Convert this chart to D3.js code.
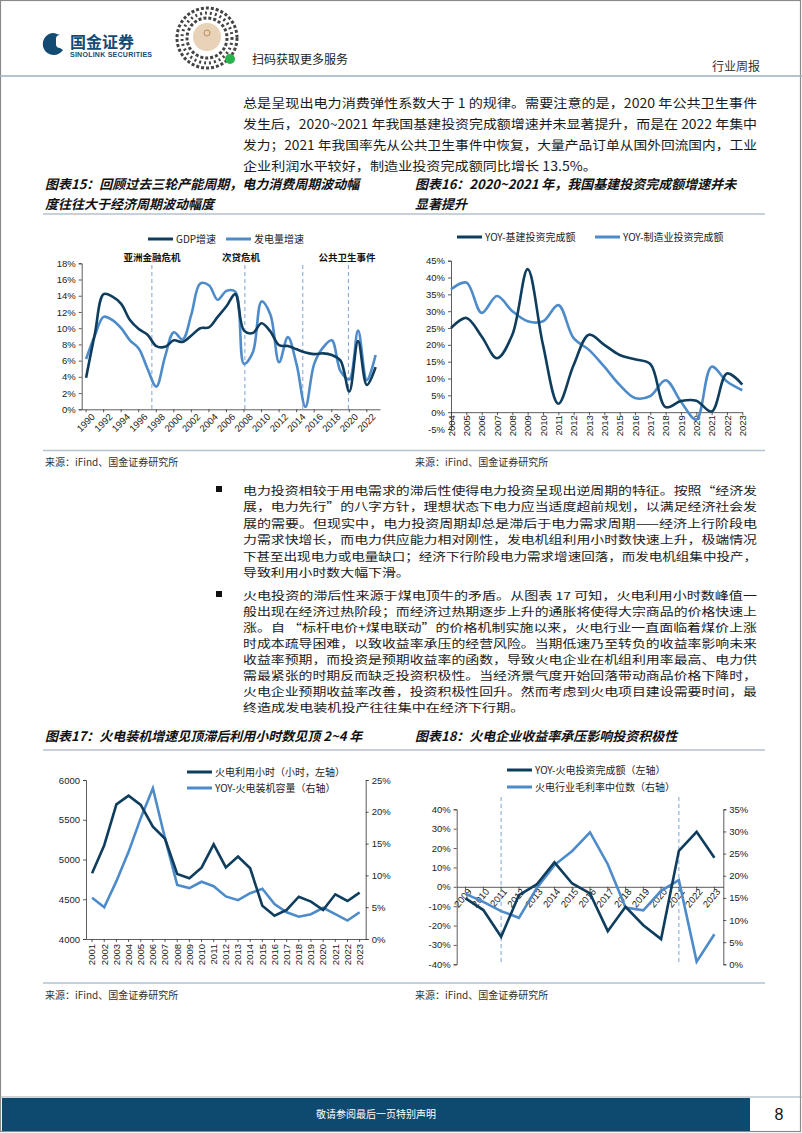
<!DOCTYPE html>
<html><head><meta charset="utf-8">
<script src="https://cdn.jsdelivr.net/npm/d3@7"></script>
<style>
body{margin:0;background:#fff;}
svg{display:block;}
.ax text{font-family:"Liberation Sans",Arial,sans-serif;font-size:9.5px;fill:#222;}
.ax path,.ax line{stroke:#333;stroke-width:0.8;}
</style></head>
<body>
<svg id="pg" width="802" height="1133"></svg>
<script>
// ---------- DATA ----------
const years1 = d3.range(1990, 2024);
const gdpGrowth = [3.9,9.3,14.2,13.9,13.0,11.0,9.9,9.2,7.8,7.7,8.5,8.3,9.1,10.0,10.1,11.4,12.7,14.2,9.7,9.4,10.6,9.6,7.9,7.8,7.4,7.0,6.8,6.9,6.7,6.0,2.2,8.4,3.0,5.2];
const powerGrowth = [6.2,9.1,11.4,11.0,10.0,8.5,7.5,5.0,2.8,6.5,9.5,8.6,11.7,15.5,15.3,13.5,14.6,14.5,5.6,7.0,13.3,11.7,5.8,8.9,5.5,0.3,5.6,7.6,8.5,4.7,3.7,9.7,3.6,6.7];
const crisisLabels = ["亚洲金融危机","次贷危机","","公共卫生事件"];
const crisisYears = [1997.5, 2008.1, 2014.7, 2019.9];

const years2 = d3.range(2004, 2024);
const infraYoY = [25,28,22.5,16,23,42.5,20,2.5,14,23,20,17,15.7,14.3,1.5,3.3,3.4,0.2,11.5,8.2];
const mfgYoY = [36.5,38.5,29.5,34.5,30,27,27,31.8,22,18.5,13.5,8.1,4.2,4.8,9.5,3.1,-2.2,13.5,9.1,6.5];

const years3 = d3.range(2001, 2024);
const thermalHours = [4826,5180,5694,5803,5686,5413,5260,4818,4763,4897,5190,4901,5036,4889,4419,4293,4365,4532,4470,4365,4562,4478,4583];
const thermalCapYoY = [6.5,5.0,9.1,13.7,19.0,23.7,15.8,8.5,8.0,9.0,8.3,6.7,6.1,7.2,7.9,5.5,4.2,3.5,3.9,4.9,3.9,2.9,4.2];

const years4 = d3.range(2009, 2024);
const thermalInvYoY = [-6,-12,-25.8,-4.3,1.2,12.6,1.7,-3.4,-22.9,-10.3,-19.8,-27,18.6,28.4,15];
const grossMargin = [15.9,14.1,12.0,10.5,17.2,22.4,25.6,29.8,22.6,12.8,12.2,16.6,19.0,0.6,6.8];
const marker4Years = [2011, 2021];

const DARK = "#0f3d5e", LIGHT = "#4d8bca", DASH = "#7fa3d6";
const CJK = '"Noto Sans CJK SC","Noto Sans",sans-serif';

const svg = d3.select("#pg");

// ---------- PAGE FRAME ----------
svg.append("rect").attr("x",0.5).attr("y",0.5).attr("width",800).attr("height",1131).attr("fill","none").attr("stroke","#8a8a8a").attr("stroke-width",1.2);
svg.append("line").attr("x1",0).attr("x2",802).attr("y1",76).attr("y2",76).attr("stroke","#9fb0bf").attr("stroke-width",1.5);

// logo
const logo = svg.append("g");
logo.append("path").attr("d","M54,33 a11,11 0 1,0 9,17 l-3,-2 a4,4 0 0,1 -4,-3 l0,-6 a4,4 0 0,1 4,-4 z").attr("fill","#134b73");
logo.append("text").attr("x",70).attr("y",48).text("国金证券").attr("font-family",CJK).attr("font-weight","bold").attr("font-size",16).attr("fill","#134b73");
logo.append("text").attr("x",70).attr("y",57).text("SINOLINK SECURITIES").attr("font-family","Liberation Sans,Arial").attr("font-weight","bold").attr("font-size",7).attr("fill","#134b73").attr("textLength",82);
// QR-like badge
const qr = svg.append("g");
[30,25,20].forEach((r,i)=>qr.append("circle").attr("cx",207).attr("cy",38).attr("r",r).attr("fill","none").attr("stroke","#444").attr("stroke-width",3).attr("stroke-dasharray",i%2?"2,3":"3,2"));
qr.append("circle").attr("cx",207).attr("cy",37).attr("r",14).attr("fill","#e9d3b8");
qr.append("circle").attr("cx",207).attr("cy",33).attr("r",3).attr("fill","none").attr("stroke","#b58d5c");
qr.append("circle").attr("cx",230).attr("cy",59).attr("r",5).attr("fill","#2bb24c");
svg.append("text").attr("x",252).attr("y",64).text("扫码获取更多服务").attr("font-family",CJK).attr("font-size",12).attr("fill","#222");
svg.append("text").attr("x",712).attr("y",71).text("行业周报").attr("font-family",CJK).attr("font-size",12).attr("fill","#333");

// ---------- BODY TEXT ----------
function para(lines, x, y0, lh, width, fs){
  let ratio = 1;
  lines.forEach((t,i)=>{
    const el = svg.append("text").attr("x",x).attr("y",y0+i*lh).text(t)
      .attr("font-family",CJK).attr("font-size",fs).attr("fill","#1a1a1a");
    const nat = el.node().getComputedTextLength();
    if(i < lines.length-1){ el.attr("textLength",width).attr("lengthAdjust","spacingAndGlyphs"); if(i===0) ratio = width/nat; }
    else el.attr("textLength",nat*ratio).attr("lengthAdjust","spacingAndGlyphs");
  });
}
para(["总是呈现出电力消费弹性系数大于 1 的规律。需要注意的是，2020 年公共卫生事件",
      "发生后，2020~2021 年我国基建投资完成额增速并未显著提升，而是在 2022 年集中",
      "发力；2021 年我国率先从公共卫生事件中恢复，大量产品订单从国外回流国内，工业",
      "企业利润水平较好，制造业投资完成额同比增长 13.5%。"], 243, 108, 21, 514, 12.5);
para(["电力投资相较于用电需求的滞后性使得电力投资呈现出逆周期的特征。按照“经济发",
      "展，电力先行”的八字方针，理想状态下电力应当适度超前规划，以满足经济社会发",
      "展的需要。但现实中，电力投资周期却总是滞后于电力需求周期——经济上行阶段电",
      "力需求快增长，而电力供应能力相对刚性，发电机组利用小时数快速上升，极端情况",
      "下甚至出现电力或电量缺口；经济下行阶段电力需求增速回落，而发电机组集中投产，",
      "导致利用小时数大幅下滑。"], 243, 495, 16.4, 514, 11);
para(["火电投资的滞后性来源于煤电顶牛的矛盾。从图表 17 可知，火电利用小时数峰值一",
      "般出现在经济过热阶段；而经济过热期逐步上升的通胀将使得大宗商品的价格快速上",
      "涨。自 “标杆电价+煤电联动”的价格机制实施以来，火电行业一直面临着煤价上涨",
      "时成本疏导困难，以致收益率承压的经营风险。当期低速乃至转负的收益率影响未来",
      "收益率预期，而投资是预期收益率的函数，导致火电企业在机组利用率最高、电力供",
      "需最紧张的时期反而缺乏投资积极性。当经济景气度开始回落带动商品价格下降时，",
      "火电企业预期收益率改善，投资积极性回升。然而考虑到火电项目建设需要时间，最",
      "终造成发电装机投产往往集中在经济下行期。"], 243, 600, 16, 514, 11);
svg.append("rect").attr("x",216).attr("y",486).attr("width",6).attr("height",6).attr("fill","#111");
svg.append("rect").attr("x",216).attr("y",591).attr("width",6).attr("height",6).attr("fill","#111");

// ---------- TITLES / SOURCES ----------
function title(t,x,y){svg.append("text").attr("x",x).attr("y",y).text(t).attr("font-family",CJK).attr("font-weight","bold").attr("font-style","italic").attr("font-size",13).attr("fill","#111");}
title("图表15：回顾过去三轮产能周期，电力消费周期波动幅",45,189);
title("度往往大于经济周期波动幅度",45,209);
title("图表16：2020~2021 年，我国基建投资完成额增速并未",415,189);
title("显著提升",415,209);
title("图表17：火电装机增速见顶滞后利用小时数见顶 2~4 年",45,741);
title("图表18：火电企业收益率承压影响投资积极性",415,741);
[214,750,450.5,983].forEach(y=>svg.append("line").attr("x1",43).attr("x2",765).attr("y1",y).attr("y2",y).attr("stroke","#b4c2cf").attr("stroke-width",1.5));
[[45,466],[415,466],[45,999],[415,999]].forEach(([x,y])=>svg.append("text").attr("x",x).attr("y",y).text("来源：iFind、国金证券研究所").attr("font-family",CJK).attr("font-size",10).attr("fill","#333"));

// footer
svg.append("line").attr("x1",0).attr("x2",802).attr("y1",1097).attr("y2",1097).attr("stroke","#9aa7b3").attr("stroke-width",1);
svg.append("rect").attr("x",2).attr("y",1098).attr("width",748).attr("height",33).attr("fill","#0e4a70");
svg.append("text").attr("x",376).attr("y",1118).attr("text-anchor","middle").text("敬请参阅最后一页特别声明").attr("font-family",CJK).attr("font-size",10).attr("fill","#fff");
svg.append("text").attr("x",779).attr("y",1120).attr("text-anchor","middle").text("8").attr("font-family","Liberation Sans,Arial").attr("font-size",16).attr("fill","#111");

// ---------- helpers ----------
function legendItem(g,x,y,color,label){
  g.append("line").attr("x1",x).attr("x2",x+25).attr("y1",y).attr("y2",y).attr("stroke",color).attr("stroke-width",3);
  g.append("text").attr("x",x+28).attr("y",y+3.5).text(label).attr("font-family",CJK).attr("font-size",10).attr("fill","#222");
}
const pct = d => d + "%";

// ---------- CHART 15 ----------
{
  const g = svg.append("g");
  const x = d3.scaleBand().domain(years1).range([81.7,380]);
  const xc = v => x(v) + x.bandwidth()/2;
  const xf = yr => 81.7 + (yr - 1990 + 0.5) * x.step();
  const y = d3.scaleLinear().domain([0,18]).range([409.3,263.3]);
  g.append("g").attr("class","ax").attr("transform","translate(81.7,0)")
    .call(d3.axisLeft(y).tickValues(d3.range(0,19,2)).tickFormat(pct).tickSize(3).tickPadding(3));
  const xa = g.append("g").attr("class","ax").attr("transform","translate(0,409.3)")
    .call(d3.axisBottom(x).tickValues(years1.filter(v=>v%2===0)).tickSize(3).tickSizeOuter(0));
  xa.selectAll("text").attr("text-anchor","end").attr("transform","translate(4,0) rotate(-45)").attr("dy","0.6em").attr("dx","-0.2em").attr("y",4).attr("x",0);
  crisisYears.forEach((yr,i)=>{
    g.append("line").attr("x1",xf(yr)).attr("x2",xf(yr)).attr("y1",265).attr("y2",409).attr("stroke",DASH).attr("stroke-dasharray","4,3").attr("stroke-width",1);
  });
  [[0,152],[1,241],[3,347]].forEach(([i,cx])=>g.append("text").attr("x",cx).attr("y",261).attr("text-anchor","middle").text(crisisLabels[i]).attr("font-family",CJK).attr("font-weight","bold").attr("font-size",9.5).attr("fill","#111"));
  const line = d3.line().x((d,i)=>xc(years1[i])).y(d=>y(d)).curve(d3.curveCatmullRom);
  g.append("path").attr("d",line(powerGrowth)).attr("fill","none").attr("stroke",LIGHT).attr("stroke-width",2.6);
  g.append("path").attr("d",line(gdpGrowth)).attr("fill","none").attr("stroke",DARK).attr("stroke-width",2.6);
  legendItem(g,148,239,DARK,"GDP增速");
  legendItem(g,226,239,LIGHT,"发电量增速");
}

// ---------- CHART 16 ----------
{
  const g = svg.append("g");
  const x = d3.scaleLinear().domain([2004,2023]).range([451,742.3]);
  const y = d3.scaleLinear().domain([-5,45]).range([429,260.7]);
  g.append("g").attr("class","ax").attr("transform","translate(451,0)")
    .call(d3.axisLeft(y).tickValues(d3.range(-5,46,5)).tickFormat(pct).tickSize(3).tickPadding(3));
  const xa = g.append("g").attr("class","ax").attr("transform",`translate(0,${y(0)})`)
    .call(d3.axisBottom(x).tickValues(years2).tickFormat(d3.format("d")).tickSize(3).tickSizeOuter(0));
  xa.selectAll("text").attr("text-anchor","end").attr("transform","rotate(-90)").attr("x",-3).attr("y",0).attr("dy","0.35em");
  const line = d3.line().x((d,i)=>x(years2[i])).y(d=>y(d)).curve(d3.curveCatmullRom);
  g.append("path").attr("d",line(mfgYoY)).attr("fill","none").attr("stroke",LIGHT).attr("stroke-width",2.6);
  g.append("path").attr("d",line(infraYoY)).attr("fill","none").attr("stroke",DARK).attr("stroke-width",2.6);
  legendItem(g,457,237,DARK,"YOY-基建投资完成额");
  legendItem(g,595,237,LIGHT,"YOY-制造业投资完成额");
}

// ---------- CHART 17 ----------
{
  const g = svg.append("g");
  const x = d3.scaleBand().domain(years3).range([86,365.7]);
  const xc = v => x(v) + x.bandwidth()/2;
  const yL = d3.scaleLinear().domain([4000,6000]).range([939,780]);
  const yR = d3.scaleLinear().domain([0,25]).range([939,780]);
  g.append("g").attr("class","ax").attr("transform","translate(86,0)")
    .call(d3.axisLeft(yL).tickValues(d3.range(4000,6001,500)).tickFormat(d3.format("d")).tickSize(3).tickPadding(3));
  g.append("g").attr("class","ax").attr("transform","translate(365.7,0)")
    .call(d3.axisRight(yR).tickValues(d3.range(0,26,5)).tickFormat(pct).tickSize(3).tickPadding(3));
  const xa = g.append("g").attr("class","ax").attr("transform","translate(0,939)")
    .call(d3.axisBottom(x).tickSize(3).tickSizeOuter(0));
  xa.selectAll("text").attr("text-anchor","end").attr("transform","rotate(-90)").attr("x",-5).attr("y",0).attr("dy","0.35em");
  const lineL = d3.line().x((d,i)=>xc(years3[i])).y(d=>yL(d));
  const lineR = d3.line().x((d,i)=>xc(years3[i])).y(d=>yR(d));
  g.append("path").attr("d",lineR(thermalCapYoY)).attr("fill","none").attr("stroke",LIGHT).attr("stroke-width",2.6);
  g.append("path").attr("d",lineL(thermalHours)).attr("fill","none").attr("stroke",DARK).attr("stroke-width",2.6);
  legendItem(g,187,772,DARK,"火电利用小时（小时，左轴）");
  legendItem(g,187,788,LIGHT,"YOY-火电装机容量（右轴）");
}

// ---------- CHART 18 ----------
{
  const g = svg.append("g");
  const x = d3.scaleBand().domain(years4).range([456.7,723.3]);
  const xc = v => x(v) + x.bandwidth()/2;
  const yL = d3.scaleLinear().domain([-40,40]).range([964.3,809.3]);
  const yR = d3.scaleLinear().domain([0,35]).range([964.3,809.3]);
  g.append("g").attr("class","ax").attr("transform","translate(456.7,0)")
    .call(d3.axisLeft(yL).tickValues(d3.range(-40,41,10)).tickFormat(pct).tickSize(3).tickPadding(3));
  g.append("g").attr("class","ax").attr("transform","translate(723.3,0)")
    .call(d3.axisRight(yR).tickValues(d3.range(0,36,5)).tickFormat(pct).tickSize(3).tickPadding(3));
  const xa = g.append("g").attr("class","ax").attr("transform",`translate(0,${yL(0)})`)
    .call(d3.axisBottom(x).tickSize(3).tickSizeOuter(0));
  xa.selectAll("text").attr("text-anchor","end").attr("transform","translate(4,3) rotate(-50)").attr("x",0).attr("y",0).attr("dy","0.35em");
  marker4Years.forEach(yr=>g.append("line").attr("x1",xc(yr)).attr("x2",xc(yr)).attr("y1",797).attr("y2",964).attr("stroke",DASH).attr("stroke-dasharray","4,3").attr("stroke-width",1));
  const lineL = d3.line().x((d,i)=>xc(years4[i])).y(d=>yL(d));
  const lineR = d3.line().x((d,i)=>xc(years4[i])).y(d=>yR(d));
  g.append("path").attr("d",lineR(grossMargin)).attr("fill","none").attr("stroke",LIGHT).attr("stroke-width",2.6);
  g.append("path").attr("d",lineL(thermalInvYoY)).attr("fill","none").attr("stroke",DARK).attr("stroke-width",2.6);
  legendItem(g,507,770,DARK,"YOY-火电投资完成额（左轴）");
  legendItem(g,507,787,LIGHT,"火电行业毛利率中位数（右轴）");
}
</script>
</body></html>
